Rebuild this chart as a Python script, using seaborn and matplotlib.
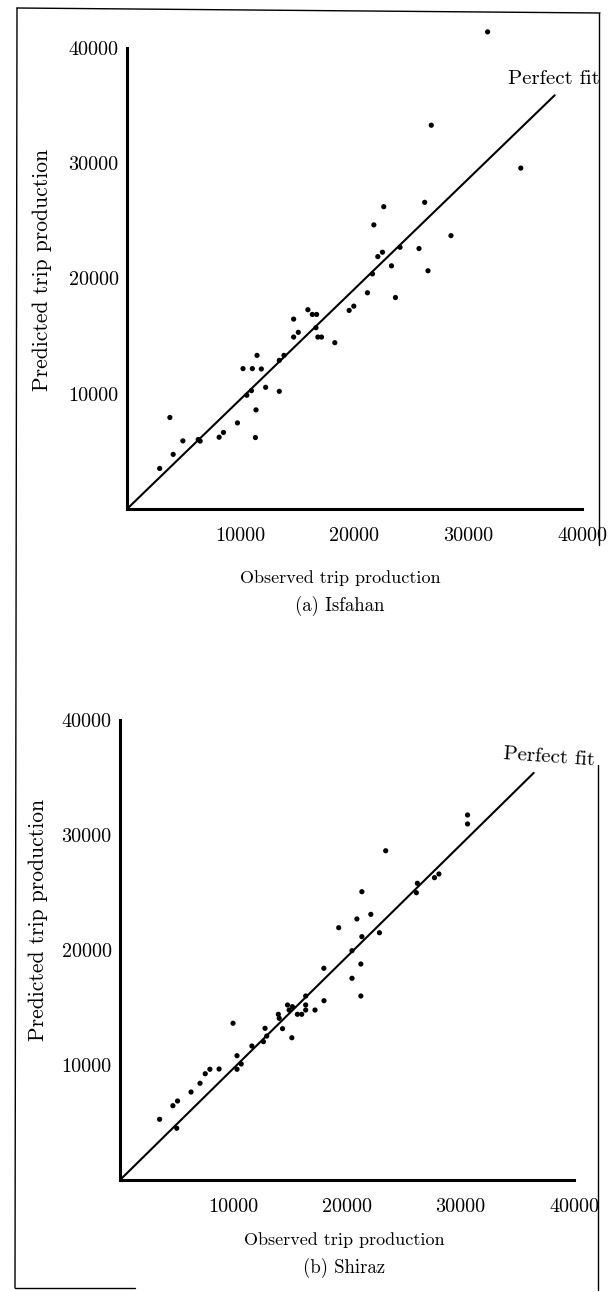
import matplotlib
matplotlib.use("Agg")
import matplotlib.pyplot as plt
from matplotlib.lines import Line2D
import seaborn as sns
import pandas as pd

# ---------------- data ----------------
isfahan_observed = [31700, 26750, 34620, 22570, 26170, 21700, 28480, 25670, 24000, 22460,
                    22050, 26460, 23250, 21580, 21140, 23600, 19530, 19940, 15900, 16290,
                    16670, 14650, 15060, 14650, 16610, 16780, 17100, 18270, 13800, 13390,
                    11430, 10200, 11020, 11810, 12190, 13390, 10940, 10530, 11340, 11290,
                    9710, 8480, 8100, 6430, 6260, 4910, 3770, 4060, 2870]
isfahan_predicted = [41400, 33300, 29580, 26230, 26610, 24650, 23720, 22600, 22710, 22280,
                     21900, 20670, 21100, 20400, 18760, 18350, 17230, 17600, 17290, 16880,
                     16880, 16480, 15330, 14920, 15730, 14920, 14920, 14430, 13330, 12900,
                     13330, 12180, 12180, 12150, 10560, 10210, 10270, 9870, 8600, 6200,
                     7470, 6640, 6230, 5890, 6030, 5910, 7940, 4740, 3520]

shiraz_observed = [3490, 4660, 5070, 5000, 6260, 7050, 7510, 7920, 8730, 9960,
                   10310, 10680, 10310, 11620, 12640, 12930, 12780, 14320, 15140, 13950,
                   14030, 14760, 15190, 14900, 16360, 16360, 15630, 16010, 17970, 17180,
                   16360, 17960, 21310, 20870, 22100, 19270, 22860, 21310, 20440, 21220,
                   20440, 21220, 26200, 26110, 27710, 28100, 30620, 30620, 23410]
shiraz_predicted = [5280, 6460, 6870, 4500, 7650, 8410, 9240, 9630, 9650, 13630,
                    10810, 10090, 9630, 11650, 12030, 12520, 13190, 13160, 12370, 14410,
                    14060, 15220, 15070, 14780, 15220, 14780, 14410, 14410, 15590, 14780,
                    16000, 18410, 25070, 22700, 23100, 21940, 21500, 21160, 19940, 18780,
                    17540, 16000, 25800, 24980, 26290, 26610, 31740, 30960, 28630]

fit_a_x = [0, 37600]
fit_a_y = [0, 35900]
fit_b_x = [0, 36450]
fit_b_y = [0, 35400]

tick_values = [10000, 20000, 30000, 40000]
tick_labels = ["10000", "20000", "30000", "40000"]

x_label = "Observed trip production"
y_label = "Predicted trip production"
captions = ["(a) Isfahan", "(b) Shiraz"]
fit_label = "Perfect fit"

# ---------------- style ----------------
sns.set_theme(style="white")
plt.rcParams["font.family"] = ["cmr10", "DejaVu Serif"]
plt.rcParams["axes.formatter.use_mathtext"] = False

W, H = 611, 1292
fig = plt.figure(figsize=(W / 100, H / 100), dpi=100)


def px_axes(left, right, bottom_px, top_px):
    return [left / W, 1 - bottom_px / H, (right - left) / W, (bottom_px - top_px) / H]


def draw_panel(ax, obs, pred, fx, fy, cap, fit_xy, fit_rot, xl_pos, yl_pos, cap_pos):
    df = pd.DataFrame({"obs": obs, "pred": pred})
    sns.scatterplot(data=df, x="obs", y="pred", ax=ax, color="black", s=14,
                    edgecolor="none", linewidth=0, clip_on=False, zorder=3)
    sns.lineplot(x=fx, y=fy, ax=ax, color="black", linewidth=1.5, clip_on=False)
    ax.set_xlim(0, 40000)
    ax.set_ylim(0, 40000)
    for s in ["top", "right"]:
        ax.spines[s].set_visible(False)
    for s in ["left", "bottom"]:
        ax.spines[s].set_linewidth(2.2)
        ax.spines[s].set_color("black")
    ax.set_xticks(tick_values)
    ax.set_xticklabels(tick_labels)
    ax.set_yticks(tick_values)
    ax.set_yticklabels(tick_labels)
    ax.tick_params(axis="x", direction="out", length=5, width=1.6, pad=8,
                   labelsize=14.5, colors="black")
    ax.tick_params(axis="y", direction="out", length=4, width=1.6, pad=2,
                   labelsize=14.5, colors="black")
    ax.set_xlabel(x_label, fontsize=13, color="black")
    ax.set_ylabel(y_label, fontsize=15.5, color="black")
    ax.xaxis.set_label_coords(*xl_pos)
    ax.xaxis.label.set_va("center")
    ax.yaxis.set_label_coords(*yl_pos)
    ax.yaxis.label.set_va("center")
    ax.text(fit_xy[0], fit_xy[1], fit_label, fontsize=15, ha="center", va="center",
            rotation=fit_rot, color="black")
    ax.text(cap_pos[0], cap_pos[1], cap, transform=ax.transAxes, fontsize=13.5,
            ha="center", va="center", color="black")
    ax.set_facecolor("white")
    ax.patch.set_alpha(0)


ax_a = fig.add_axes(px_axes(127, 582, 509, 48))
draw_panel(ax_a, isfahan_observed, isfahan_predicted, fit_a_x, fit_a_y, captions[0],
           (37540, 37310), 0, (0.468, -0.150), (-0.187, 0.518), (0.468, -0.210))

ax_b = fig.add_axes(px_axes(120, 574, 1180, 720))
draw_panel(ax_b, shiraz_observed, shiraz_predicted, fit_b_x, fit_b_y, captions[1],
           (37800, 36780), -4, (0.493, -0.130), (-0.180, 0.565), (0.493, -0.191))

# page frame (figure pixel coordinates)
def fig_line(x0, y0, x1, y1, lw=1.0):
    fig.add_artist(Line2D([x0 / W, x1 / W], [1 - y0 / H, 1 - y1 / H],
                          transform=fig.transFigure, color="black", linewidth=lw))

fig_line(17, 8, 600, 13)
fig_line(17, 8, 15, 1288)
fig_line(599, 13, 599, 545)
fig_line(598, 765, 598, 1290)
fig_line(15, 1288, 135, 1288)

fig.savefig("out.png", dpi=100, facecolor="white")
